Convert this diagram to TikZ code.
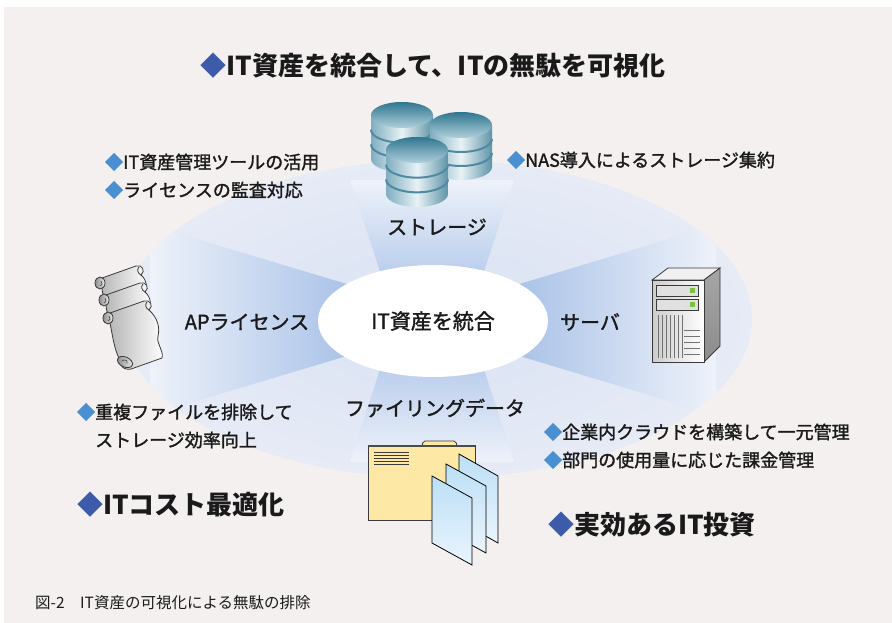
\documentclass[tikz,border=0pt]{standalone}
\usepackage{fontspec}
\setmainfont{Noto Sans CJK JP}
\newfontfamily\jpmed{Noto Sans CJK JP}[FakeBold=1.5]
\usetikzlibrary{shapes.geometric}

\definecolor{bgc}{HTML}{F3F0EF}
\definecolor{haloin}{HTML}{D9E1F2}
\definecolor{haloout}{HTML}{E6EBF6}
\definecolor{beamin}{HTML}{9FBBE5}
\definecolor{beamout}{HTML}{EEF2FA}
\definecolor{txtc}{HTML}{1A1A1A}
\definecolor{ddia}{HTML}{3D5BA9}
\definecolor{ldia}{HTML}{4A90D0}
\definecolor{cylL}{HTML}{E8F2F5}
\definecolor{cylA}{HTML}{7FAEC0}
\definecolor{cylB}{HTML}{5E94A8}
\definecolor{cylD}{HTML}{4F8AA0}
\definecolor{cylT}{HTML}{2F7690}
\definecolor{cylU}{HTML}{AFCFDA}
\definecolor{foldc}{HTML}{FDE8A6}
\definecolor{pagea}{HTML}{BCDFF5}
\definecolor{pageb}{HTML}{EAF5FD}
\definecolor{srvs}{HTML}{A6A6A6}
\definecolor{srvt}{HTML}{F0F0F0}
\definecolor{ledc}{HTML}{7CC242}
\definecolor{inkc}{HTML}{3A3A3A}

\newcommand\ldiam{{\color{ldia}◆}}
\newcommand\ddiam{{\color{ddia}◆}}

% one storage disk: centre x, top face centre y, side height
\newcommand\diskstack[3]{%
  \path[left color=cylA, right color=cylB, middle color=cylL]
    (#1-31,#2) -- (#1-31,#2+#3)
    arc[start angle=180,end angle=360,x radius=31pt,y radius=13pt]
    -- (#1+31,#2) -- cycle;
  \draw[cylD, line width=2pt] (#1-31,#2+#3/3)
    arc[start angle=180,end angle=360,x radius=31pt,y radius=13pt];
  \draw[cylD, line width=2pt] (#1-31,#2+2*#3/3)
    arc[start angle=180,end angle=360,x radius=31pt,y radius=13pt];
  \path[top color=cylT, bottom color=cylU]
    (#1,#2) ellipse [x radius=31pt, y radius=13pt];
}

% one small licence sheet with its left roll: origin x, origin y
\newcommand\licsheet[2]{%
  \path[sheet] (#1+2,#2-5) -- (#1+36,#2-17)
    .. controls (#1+42,#2-19) and (#1+46,#2-12) .. (#1+41,#2-8)
    .. controls (#1+47,#2-3) and (#1+48,#2+6) .. (#1+44,#2+10)
    -- (#1+8,#2+24)
    .. controls (#1+4,#2+18) and (#1+2,#2+8) .. (#1+2,#2+5) -- cycle;
  \draw[inkc, line width=0.8pt] (#1+41,#2-8) .. controls (#1+37,#2-10) and (#1+37,#2-14) .. (#1+39,#2-16);
  \path[roll] (#1,#2) ellipse [x radius=5pt, y radius=6pt];
  \draw[inkc, line width=0.6pt] (#1+1,#2-2) .. controls (#1+3,#2) and (#1+2,#2+3) .. (#1,#2+3);
}

\tikzset{
  txt/.style={inner sep=0pt, text=txtc},
  bul/.style={txt, anchor=west, font=\jpmed\fontsize{18}{22}\selectfont},
  head/.style={txt, anchor=west, font=\bfseries\fontsize{26}{30}\selectfont},
  lbl/.style={txt, font=\jpmed\fontsize{20}{24}\selectfont},
  sheet/.style={draw=inkc, line width=0.8pt, left color=black!28, right color=white},
  roll/.style={draw=inkc, line width=0.8pt, left color=black!45, right color=black!8},
  page/.style={draw=black, line width=0.8pt, top color=pagea, bottom color=pageb},
}

\begin{document}
\begin{tikzpicture}[x=1pt,y=-1pt]
\useasboundingbox (0,0) rectangle (892,623);
\fill[white] (0,0) rectangle (892,623);
\fill[bgc] (4,7) rectangle (892,623);

% halo round the hub
\path[inner color=haloin, outer color=haloout]
  (437,319) ellipse [x radius=315pt, y radius=159pt];

% four light beams
\begin{scope}
  \clip (437,319) ellipse [x radius=315pt, y radius=159pt];
  \path[top color=beamout, bottom color=beamin]
    (350,180) -- (514,180) -- (468,320) -- (396,320) -- cycle;
  \path[bottom color=beamout, top color=beamin]
    (350,462) -- (514,462) -- (468,320) -- (396,320) -- cycle;
  \path[left color=beamout, right color=beamin]
    (150,225) -- (380,294) -- (380,346) -- (150,415) -- cycle;
  \path[right color=beamout, left color=beamin]
    (716,225) -- (486,294) -- (486,346) -- (716,415) -- cycle;
\end{scope}

% hub
\node[ellipse, fill=white, minimum width=230pt, minimum height=112pt,
      inner sep=0pt, text=txtc, font=\jpmed\fontsize{21}{24}\selectfont]
  (hub) at (433,321) {IT資産を統合};

% storage disks
\diskstack{402}{115}{44}
\diskstack{461}{125}{42}
\diskstack{417}{150}{44}

% licence scrolls, back to front
\licsheet{100}{283}
\licsheet{104}{300}
\path[sheet] (110,313) -- (144,301)
  .. controls (150,299) and (154,306) .. (149,310)
  .. controls (158,318) and (160,328) .. (158,336)
  .. controls (156,344) and (164,350) .. (162,358)
  -- (134,368)
  .. controls (126,372) and (118,366) .. (120,360)
  .. controls (114,350) and (112,332) .. (110,323) -- cycle;
\draw[inkc, line width=0.8pt] (149,310) .. controls (145,308) and (145,304) .. (147,302);
\path[roll] (108,318) ellipse [x radius=5pt, y radius=6pt];
\draw[inkc, line width=0.6pt] (109,316) .. controls (111,318) and (110,321) .. (108,321);
\path[roll, rotate around={-25:(125,362)}] (125,362) ellipse [x radius=8pt, y radius=5pt];
\draw[inkc, line width=0.6pt] (122,361) .. controls (124,359) and (128,360) .. (127,363);

% server tower
\path[draw=inkc, line width=0.8pt, fill=srvt]
  (652,280) -- (668,268) -- (720,268) -- (704,280) -- cycle;
\path[draw=inkc, line width=0.8pt, top color=srvs, bottom color=black!45]
  (704,280) -- (720,268) -- (720,346) -- (704,362) -- cycle;
\path[draw=inkc, line width=0.8pt, left color=black!20, right color=white]
  (652,280) rectangle (704,362);
\draw[inkc, fill=black!12] (656,285) rectangle (698,296);
\draw[inkc, fill=black!12] (656,299) rectangle (698,310);
\fill[ledc] (690,288) rectangle (695,293);
\fill[ledc] (690,302) rectangle (695,307);
\foreach \vx in {658,662,...,682} \draw[black!55, line width=0.6pt] (\vx,315) -- (\vx,358);
\foreach \vy in {330,336,...,354} \draw[black!55, line width=0.6pt] (684,\vy) -- (700,\vy);

% folder and documents
\draw[inkc, line width=0.8pt, fill=foldc, rounded corners=2pt] (422,447) -- (423,441) -- (456,441) -- (457,447);
\draw[inkc, line width=0.8pt, fill=foldc] (368,445) rectangle (475,520);
\draw[black!70, line width=2pt] (368,446) -- (475,446);
\foreach \ly in {452,455,458,461,464} \draw[inkc, line width=0.9pt] (374,\ly) -- (409,\ly);
\path[page] (459,454) -- (498,476) -- (498,543) -- (459,521) -- cycle;
\path[page] (446,464) -- (486,486) -- (486,553) -- (446,531) -- cycle;
\path[page] (432,476) -- (472,498) -- (472,565) -- (432,543) -- cycle;

% labels of the four resources
\node[lbl] (st) at (437,227) {ストレージ};
\node[lbl] (ap) at (247,322) {APライセンス};
\node[lbl] (sv) at (590,322) {サーバ};
\node[lbl] (fd) at (435,408) {ファイリングデータ};

% headline
\node[txt, font=\bfseries\fontsize{26}{30}\selectfont] (title) at (433,66)
  {\ddiam IT資産を統合して、ITの無駄を可視化};

% bullet notes
\node[bul] (n1) at (105,162) {\ldiam IT資産管理ツールの活用};
\node[bul] (n2) at (105,190) {\ldiam ライセンスの監査対応};
\node[bul] (n3) at (507,160) {\ldiam NAS導入によるストレージ集約};
\node[bul] (n4) at (77,412) {\ldiam 重複ファイルを排除して};
\node[bul] (n5) at (95,440) {ストレージ効率向上};
\node[bul] (n6) at (544,432) {\ldiam 企業内クラウドを構築して一元管理};
\node[bul] (n7) at (544,460) {\ldiam 部門の使用量に応じた課金管理};

% outcomes
\node[head] (h1) at (77,505) {\ddiam ITコスト最適化};
\node[head] (h2) at (548,525) {\ddiam 実効あるIT投資};

% caption
\node[txt, anchor=west, font=\fontsize{15.5}{18}\selectfont] (cap) at (35,603)
  {図-2　IT資産の可視化による無駄の排除};
\end{tikzpicture}
\end{document}
